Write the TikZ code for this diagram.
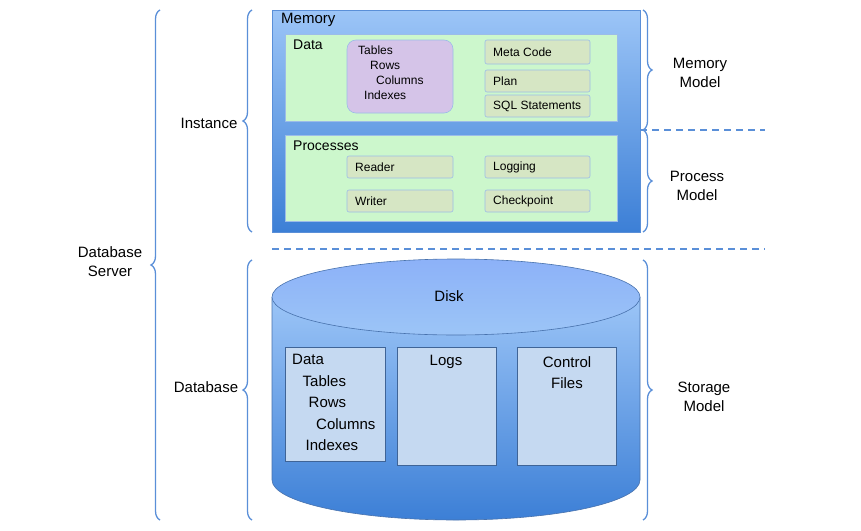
\documentclass[tikz,border=0pt]{standalone}
\usepackage{fontspec}
\setmainfont{Liberation Sans}
\usetikzlibrary{decorations.pathreplacing,shapes.geometric}
\definecolor{bluedk}{HTML}{3C7FD6}
\definecolor{bluelt}{HTML}{9CC5F7}
\definecolor{edge}{HTML}{5A8FD8}
\definecolor{grn}{HTML}{CCF7CC}
\definecolor{pur}{HTML}{D5C4E8}
\definecolor{sbox}{HTML}{D6E6C4}
\definecolor{lbox}{HTML}{C5D9F1}
\tikzset{
 x=1pt,y=1pt,
 txt/.style={inner sep=0pt,anchor=west,font=\fontsize{12}{14}\selectfont},
 big/.style={inner sep=0pt,font=\fontsize{15}{18}\selectfont},
 lab/.style={inner sep=0pt,align=center,font=\fontsize{15}{19}\selectfont},
 green/.style={draw=edge!60,fill=grn,line width=0.6pt},
 small/.style={draw=edge!60,fill=sbox,rounded corners=2pt,line width=0.6pt},
 disk/.style={draw=edge!70!black,fill=lbox,line width=0.6pt},
 brc/.style={draw=edge,line width=1.3pt,decorate,decoration={brace,amplitude=9pt}},
 dashln/.style={draw=edge,line width=1.3pt,dash pattern=on 7pt off 5pt},
}
\begin{document}
\begin{tikzpicture}
\useasboundingbox (0,0) rectangle (861,-530);
% memory box
\shade[top color=bluelt,bottom color=bluedk] (272,-10) rectangle (640,-232);
\draw[edge,line width=0.6pt] (272,-10) rectangle (640,-232);
\node[big,anchor=west] (mem) at (281,-20) {Memory};
\draw[green] (285,-34) rectangle (617,-121);
\node[big,anchor=west,font=\fontsize{14}{17}\selectfont] (data) at (293,-45) {Data};
\draw[draw=edge!60,fill=pur,rounded corners=9pt,line width=0.6pt] (347,-40) rectangle (453,-113);
\node[txt,font=\fontsize{12}{16}\selectfont,align=left,anchor=north west] (tab) at (358,-46)
 {Tables\\[-1pt]\hspace*{1em}Rows\\[-1pt]\hspace*{1.5em}Columns\\[-1pt]\hspace*{0.5em}Indexes};
\draw[small] (485,-40) rectangle (590,-64); \node[txt] (meta) at (493,-52) {Meta Code};
\draw[small] (485,-70) rectangle (590,-92); \node[txt] (plan) at (493,-81) {Plan};
\draw[small] (485,-95) rectangle (590,-117); \node[txt] (sql) at (493,-106) {SQL Statements};
\draw[green] (285,-135) rectangle (617,-221);
\node[big,anchor=west,font=\fontsize{14}{17}\selectfont] (proc) at (293,-146) {Processes};
\draw[small] (347,-156) rectangle (453,-178); \node[txt] (rd) at (355,-167) {Reader};
\draw[small] (347,-190) rectangle (453,-212); \node[txt] (wr) at (355,-201) {Writer};
\draw[small] (485,-156) rectangle (590,-178); \node[txt] (lg) at (493,-167) {Logging};
\draw[small] (485,-190) rectangle (590,-212); \node[txt] (cp) at (493,-201) {Checkpoint};
% dashed
\coordinate (d1a) at (640,-130); \coordinate (d1b) at (765,-130);
\coordinate (d2a) at (272,-249); \coordinate (d2b) at (765,-249);
\draw[dashln] (d1a) -- (d1b);
\draw[dashln] (d2a) -- (d2b);
% cylinder
\shade[top color=bluelt,bottom color=bluedk] (272,-297) -- (272,-480) arc[start angle=180,end angle=360,x radius=184,y radius=40] -- (640,-297) -- cycle;
\draw[edge!80!black,line width=0.6pt] (272,-297) -- (272,-480) arc[start angle=180,end angle=360,x radius=184,y radius=40] -- (640,-297);
\shade[top color=bluelt!90!blue,bottom color=bluelt] (456,-297) ellipse[x radius=184,y radius=38];
\draw[edge!80!black,line width=0.6pt] (456,-297) ellipse[x radius=184,y radius=38];
\node[big] (disk) at (449,-296) {Disk};
\draw[disk] (285,-347) rectangle (385,-461);
\node[big,align=left,anchor=north west,font=\fontsize{15}{21.5}\selectfont] (dd) at (292,-354)
 {Data\\\hspace*{0.7em}Tables\\\hspace*{1.1em}Rows\\\hspace*{1.6em}Columns\\\hspace*{0.9em}Indexes};
\draw[disk] (397,-347) rectangle (496,-465);
\node[big] (logs) at (446,-362) {Logs};
\draw[disk] (517,-347) rectangle (616,-465);
\node[big,align=center,font=\fontsize{15}{21.5}\selectfont,anchor=north] (cf) at (567,-356) {Control\\Files};
% braces
\draw[brc] (160,-520) -- (160,-10);
\draw[brc] (252,-232) -- (252,-10);
\draw[brc] (252,-520) -- (252,-260);
\draw[brc] (643,-10) -- (643,-130);
\draw[brc] (643,-130) -- (643,-232);
\draw[brc] (643,-260) -- (643,-520);
\node[lab] (ds) at (110,-262) {Database\\Server};
\node[lab] (inst) at (209,-123) {Instance};
\node[lab] (db) at (206,-387) {Database};
\node[lab] (mm) at (700,-73) {Memory\\Model};
\node[lab] (pm) at (697,-186) {Process\\Model};
\node[lab] (sm) at (704,-397) {Storage\\Model};
\end{tikzpicture}
\end{document}
